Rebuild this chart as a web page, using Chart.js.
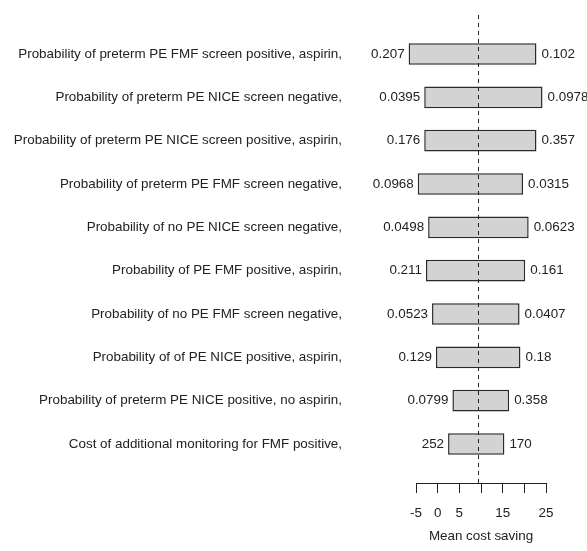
<!DOCTYPE html>
<html>
<head>
<meta charset="utf-8">
<script src="https://cdn.jsdelivr.net/npm/chart.js@4"></script>
<style>
  body { margin: 0; background: #fff; }
  #wrap { width: 587px; height: 551px; }
</style>
</head>
<body>
<div id="wrap"><canvas id="tornado"></canvas></div>
<script>
// Parameters, top to bottom
const categories = [
    'Probability of preterm PE FMF screen positive, aspirin,',
    'Probability of preterm PE NICE screen negative,',
    'Probability of preterm PE NICE screen positive, aspirin,',
    'Probability of preterm PE FMF screen negative,',
    'Probability of no PE NICE screen negative,',
    'Probability of PE FMF positive, aspirin,',
    'Probability of no PE FMF screen negative,',
    'Probability of of PE NICE positive, aspirin,',
    'Probability of preterm PE NICE positive, no aspirin,',
    'Cost of additional monitoring for FMF positive,'
];

// Mean cost saving at each end of the range
const lowSaving = [-6.7, -3.1, -3.1, -4.6, -2.2, -2.7, -1.3, -0.4, 3.4, 2.4];
const highSaving = [22.8, 24.2, 22.8, 19.7, 21.0, 20.2, 18.9, 19.1, 16.5, 15.4];

// Parameter values printed beside each bar
const lowLabels = ['0.207', '0.0395', '0.176', '0.0968', '0.0498', '0.211', '0.0523', '0.129', '0.0799', '252'];
const highLabels = ['0.102', '0.0978', '0.357', '0.0315', '0.0623', '0.161', '0.0407', '0.18', '0.358', '170'];

// Base case and axis ticks
const baseSaving = 9.2;
const xTicks = [-5, 0, 5, 10, 15, 20, 25];
const xTickLabels = ['-5', '0', '5', '', '15', '', '25'];

const FONT = "'Liberation Sans', Arial, sans-serif";
const FSIZE = 13.4;

// Dashed base line + values at bar ends
const tornadoExtras = {
    id: 'tornadoExtras',
    afterDatasetsDraw(chart) {
        const ctx = chart.ctx;
        const x = chart.scales.x;
        const y = chart.scales.y;
        const area = chart.chartArea;

        ctx.save();
        ctx.strokeStyle = '#222';
        ctx.lineWidth = 1;
        ctx.setLineDash([4, 4]);
        const bx = Math.round(x.getPixelForValue(baseSaving)) + 0.5;
        ctx.beginPath();
        ctx.moveTo(bx, area.top);
        ctx.lineTo(bx, area.bottom);
        ctx.stroke();
        ctx.setLineDash([]);

        ctx.fillStyle = '#222';
        ctx.font = FSIZE + 'px ' + FONT;
        ctx.textBaseline = 'middle';
        categories.forEach((c, i) => {
            const py = y.getPixelForValue(i + 1);
            ctx.textAlign = 'right';
            ctx.fillText(lowLabels[i], x.getPixelForValue(lowSaving[i]) - 4, py);
            ctx.textAlign = 'left';
            ctx.fillText(highLabels[i], x.getPixelForValue(highSaving[i]) + 5, py);
        });
        ctx.restore();
    }
};

function initChart() {
    const ctx = document.getElementById('tornado').getContext('2d');

    const data = {
        datasets: [{
            data: categories.map((c, i) => ({ x: [lowSaving[i], highSaving[i]], y: i + 1 })),
            backgroundColor: '#d3d3d3',
            borderColor: '#2a2a2a',
            borderWidth: 1.5,
            borderSkipped: false,
            categoryPercentage: 1,
            barPercentage: 0.5,
            clip: false
        }]
    };

    const config = {
        type: 'bar',
        data: data,
        options: {
            indexAxis: 'y',
            responsive: true,
            maintainAspectRatio: false,
            animation: false,
            layout: {
                padding: { top: 15, right: 41, bottom: 0, left: 0 }
            },
            plugins: {
                legend: { display: false },
                tooltip: { enabled: false }
            },
            scales: {
                x: {
                    type: 'linear',
                    min: -5,
                    max: 25,
                    afterBuildTicks: (scale) => {
                        scale.ticks = xTicks.map(v => ({ value: v }));
                    },
                    afterFit: (scale) => {
                        scale.height = 68;
                    },
                    grid: {
                        drawOnChartArea: false,
                        drawTicks: true,
                        tickLength: 10,
                        color: '#222'
                    },
                    border: {
                        display: true,
                        color: '#222'
                    },
                    ticks: {
                        padding: 12,
                        maxRotation: 0,
                        autoSkip: false,
                        color: '#222',
                        font: { family: FONT, size: FSIZE },
                        callback: function(value) {
                            const k = xTicks.indexOf(value);
                            return k >= 0 ? xTickLabels[k] : '';
                        }
                    },
                    title: {
                        display: true,
                        text: 'Mean cost saving',
                        color: '#222',
                        font: { family: FONT, size: FSIZE },
                        padding: { top: 0, bottom: 7 }
                    }
                },
                y: {
                    type: 'linear',
                    reverse: true,
                    offset: false,
                    min: 0.1,
                    max: 10.9,
                    afterBuildTicks: (scale) => {
                        scale.ticks = categories.map((c, i) => ({ value: i + 1 }));
                    },
                    afterFit: (scale) => {
                        scale.width = 416;
                        // keep the wide label gap from pushing the plot down
                        scale.paddingTop = 0;
                        scale.paddingBottom = 0;
                    },
                    grid: { display: false, drawTicks: false },
                    border: { display: false },
                    ticks: {
                        padding: 74,
                        autoSkip: false,
                        color: '#222',
                        font: { family: FONT, size: FSIZE },
                        callback: function(value) {
                            return categories[value - 1] || '';
                        }
                    }
                }
            }
        },
        plugins: [tornadoExtras]
    };

    new Chart(ctx, config);
}

document.addEventListener('DOMContentLoaded', initChart);
</script>
</body>
</html>
